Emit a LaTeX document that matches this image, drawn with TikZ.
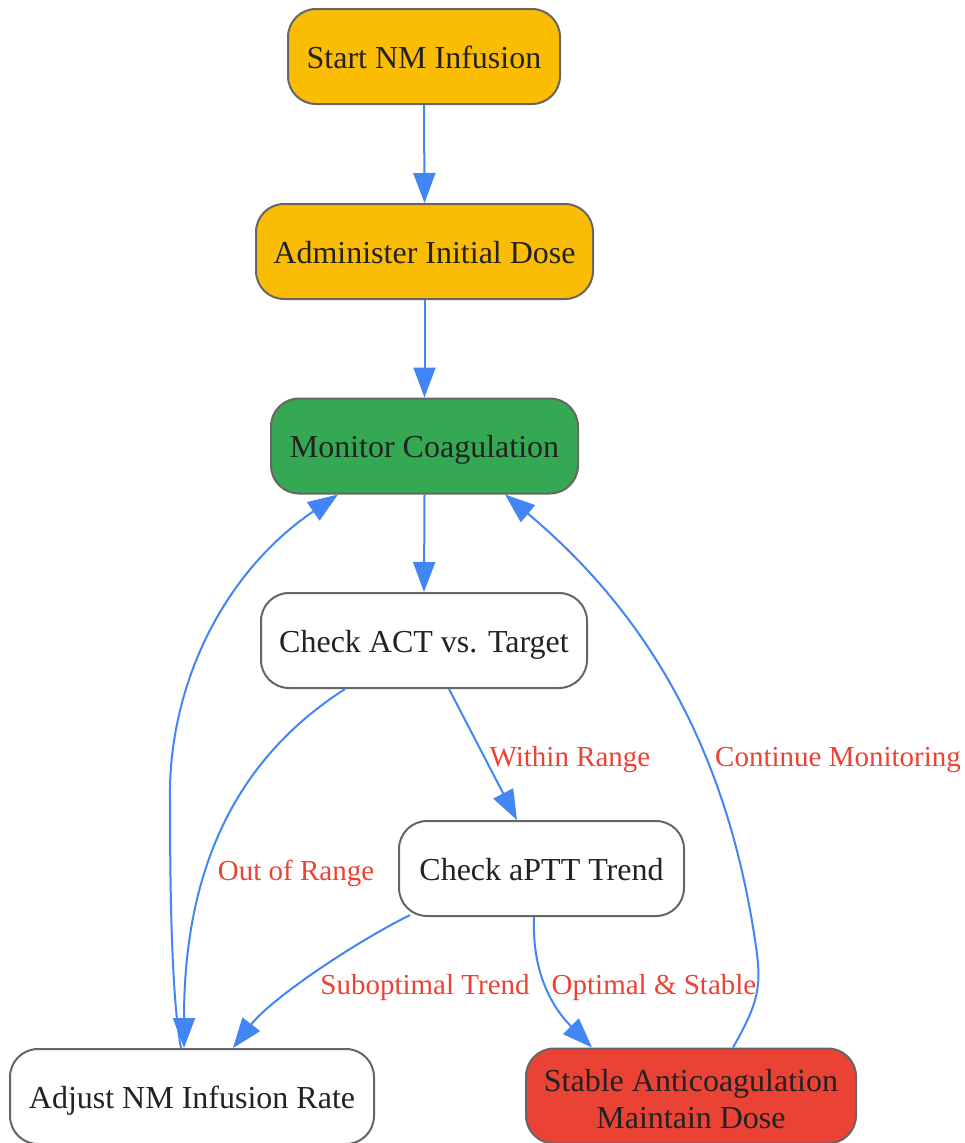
\documentclass[tikz,border=0pt]{standalone}
\usepackage{fontspec}
\setmainfont{Liberation Serif}
\usetikzlibrary{arrows.meta,calc}
\definecolor{gold}{HTML}{FBBC04}
\definecolor{ggreen}{HTML}{34A853}
\definecolor{gred}{HTML}{EA4335}
\definecolor{gblue}{HTML}{4285F4}
\definecolor{bordergray}{HTML}{666666}
\definecolor{txt}{HTML}{222222}
\tikzset{
  box/.style={draw=bordergray, line width=2pt, rounded corners=28pt, minimum height=95pt,
    text=txt, font=\fontsize{32pt}{37pt}\selectfont, align=center, inner sep=0pt},
  oneline/.style={text height=30pt, text depth=7pt},
  conn/.style={draw=gblue, line width=2pt, -{Triangle[length=30pt,width=22pt]}},
  lbl/.style={text=gred, font=\fontsize{29pt}{34pt}\selectfont, inner sep=0pt,
    text height=28pt, text depth=7pt}
}
\begin{document}
\begin{tikzpicture}[x=1pt,y=-1pt]
\useasboundingbox (0,0) rectangle (964,1143);
\node[box, oneline, fill=gold, minimum width=272pt] (start) at (424,56.5) {Start NM Infusion};
\node[box, oneline, fill=gold, minimum width=337pt] (admin) at (424.5,251.5) {Administer Initial Dose};
\node[box, oneline, fill=ggreen, minimum width=307pt] (mon) at (424.5,446) {Monitor Coagulation};
\node[box, oneline, fill=white, minimum width=326pt] (act) at (424,640.5) {Check ACT vs. Target};
\node[box, oneline, fill=white, minimum width=285pt] (aptt) at (541.5,868.5) {Check aPTT Trend};
\node[box, oneline, fill=white, minimum width=364pt] (adj) at (192,1096.5) {Adjust NM Infusion Rate};
\node[box, fill=gred, minimum width=330pt, text height=64pt, text depth=0pt] (stable) at (691,1096) {Stable Anticoagulation\\Maintain Dose};

\draw[conn] (start.south) -- (admin.north);
\draw[conn] (admin.south) -- (mon.north);
\draw[conn] (mon.south) -- (act.north);
\draw[conn] ($(act.south)+(25,0)$) -- ($(aptt.north)+(-24.5,0)$);
\draw[conn] ($(act.south)+(-79,0)$) .. controls (250,750) and (184,850) .. ($(adj.north)+(-8,0)$);
\draw[conn] ($(adj.north)+(-11,0)$) .. controls (172,1000) and (170,900) .. (170,800)
   .. controls (168,690) and (220,575) .. ($(mon.south)+(-86.5,0)$);
\draw[conn] ($(aptt.south)+(-131.5,-2)$) .. controls (350,945) and (270,1000) .. ($(adj.north)+(41,0)$);
\draw[conn] ($(aptt.south)+(-7.5,0)$) .. controls (532,970) and (550,1005) .. ($(stable.north)+(-99,0)$);
\draw[conn] ($(stable.north)+(42,0)$) .. controls (760,1000) and (762,985) .. (755,940)
   .. controls (728,760) and (655,620) .. ($(mon.south)+(80.5,0)$);

\node[lbl] (l1) at (570,756) {Within Range};
\node[lbl] (l2) at (296,870) {Out of Range};
\node[lbl] (l3) at (425,984) {Suboptimal Trend};
\node[lbl] (l4) at (654,984) {Optimal \& Stable};
\node[lbl] (l5) at (838,756) {Continue Monitoring};
\end{tikzpicture}
\end{document}
